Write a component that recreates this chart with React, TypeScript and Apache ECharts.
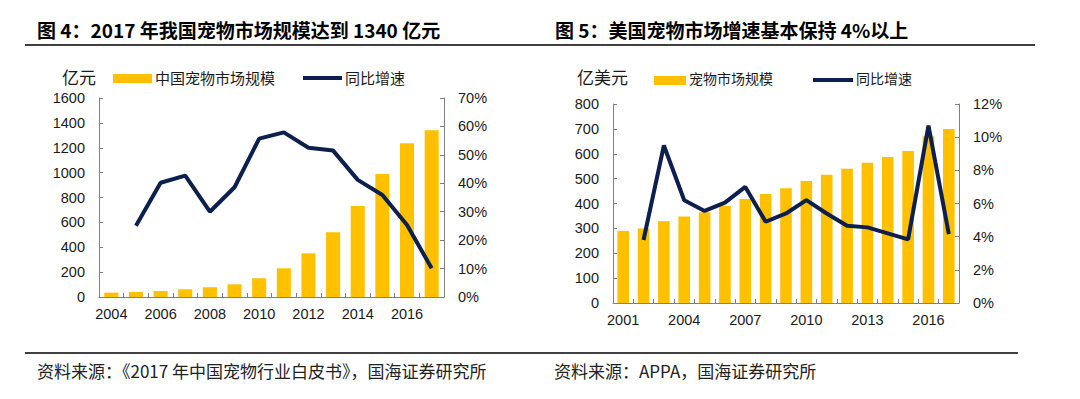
import React, { useEffect, useRef } from "react";
import * as echarts from "echarts";

const cnYears = ["2004","2005","2006","2007","2008","2009","2010","2011","2012","2013","2014","2015","2016","2017"];
const cnMarket = [35, 40, 48, 62, 78, 102, 150, 231, 351, 520, 732, 989, 1236, 1340];
const cnGrowth = [null, 25.1, 40.2, 42.7, 30.0, 38.6, 55.7, 57.9, 52.5, 51.5, 41.2, 35.9, 25.3, 10.1];

const usYears = ["2001","2002","2003","2004","2005","2006","2007","2008","2009","2010","2011","2012","2013","2014","2015","2016","2017"];
const usMarket = [290, 300, 329, 348, 365, 391, 418, 438, 461, 490, 516, 540, 564, 587, 611, 670, 700];
const usGrowth = [null, 3.8, 9.5, 6.2, 5.55, 6.05, 7.0, 4.9, 5.4, 6.2, 5.4, 4.66, 4.56, 4.2, 3.84, 10.7, 4.16];

const BAR = "#FFC000";
const NAVY = "#0D1F4F";
const AXIS = "#808080";
const TXT = "#1a1a1a";
const NUMFONT = "'Liberation Sans', Arial, sans-serif";
const CJK = "'Noto Sans CJK SC', 'Liberation Sans', sans-serif";

export default function App() {
  const ref = useRef<HTMLDivElement>(null);
  useEffect(() => {
    if (!ref.current) return;
    const chart = echarts.init(ref.current, null, { renderer: "svg" });
    const labelStyle = { color: TXT, fontSize: 14.5, fontFamily: NUMFONT, margin: 14 };
    const axisCommon = {
      axisLine: { show: true, lineStyle: { color: AXIS, width: 1 } },
      axisTick: { show: true, inside: true, length: 4, lineStyle: { color: AXIS } },
      splitLine: { show: false },
    };
    const xCommon = (data: string[], interval: number) => ({
      type: "category",
      data,
      boundaryGap: true,
      axisLine: { show: true, lineStyle: { color: AXIS, width: 1 } },
      axisTick: { show: true, inside: true, length: 4, interval: 0, alignWithLabel: false, lineStyle: { color: AXIS } },
      axisLabel: { color: TXT, fontSize: 14.5, fontFamily: NUMFONT, margin: 9, interval },
      splitLine: { show: false },
    });
    const plain = (v: number) => String(v);
    const pct = (v: number) => v + "%";
    const option: any = {
      animation: false,
      backgroundColor: "#ffffff",
      grid: [
        { left: 99, right: 1080 - 444, top: 98, bottom: 399 - 297, containLabel: false },
        { left: 613, right: 1080 - 959, top: 104, bottom: 399 - 303, containLabel: false },
      ],
      xAxis: [
        { ...xCommon(cnYears, 1), gridIndex: 0 },
        { ...xCommon(usYears, 2), gridIndex: 1 },
      ],
      yAxis: [
        { ...axisCommon, type: "value", gridIndex: 0, min: 0, max: 1600, interval: 200, position: "left",
          axisLabel: { ...labelStyle, formatter: plain } },
        { ...axisCommon, type: "value", gridIndex: 0, min: 0, max: 70, interval: 10, position: "right",
          axisLabel: { ...labelStyle, formatter: pct } },
        { ...axisCommon, type: "value", gridIndex: 1, min: 0, max: 800, interval: 100, position: "left",
          axisLabel: { ...labelStyle, formatter: plain } },
        { ...axisCommon, type: "value", gridIndex: 1, min: 0, max: 12, interval: 2, position: "right",
          axisLabel: { ...labelStyle, formatter: pct } },
      ],
      series: [
        { name: "中国宠物市场规模", type: "bar", xAxisIndex: 0, yAxisIndex: 0, data: cnMarket, barWidth: "57%", itemStyle: { color: BAR } },
        { name: "同比增速", type: "line", xAxisIndex: 0, yAxisIndex: 1, data: cnGrowth, symbol: "none", lineStyle: { color: NAVY, width: 4 }, itemStyle: { color: NAVY } },
        { name: "宠物市场规模", type: "bar", xAxisIndex: 1, yAxisIndex: 2, data: usMarket, barWidth: "57%", itemStyle: { color: BAR } },
        { name: "美国同比增速", type: "line", xAxisIndex: 1, yAxisIndex: 3, data: usGrowth, symbol: "none", lineStyle: { color: NAVY, width: 4 }, itemStyle: { color: NAVY } },
      ],
      graphic: [
        { type: "text", left: 37, top: 20, style: { text: "图 4：2017 年我国宠物市场规模达到 1340 亿元", font: `bold 19px ${CJK}`, fill: "#000" } },
        { type: "text", left: 555, top: 20, style: { text: "图 5：美国宠物市场增速基本保持 4%以上", font: `bold 19px ${CJK}`, fill: "#000" } },
        { type: "line", shape: { x1: 25, y1: 45, x2: 1035, y2: 45 }, style: { stroke: "#000", lineWidth: 1.5 } },
        { type: "line", shape: { x1: 25, y1: 353, x2: 1018, y2: 353 }, style: { stroke: "#000", lineWidth: 1.5 } },
        { type: "text", left: 37, top: 362, style: { text: "资料来源：《2017 年中国宠物行业白皮书》，国海证券研究所", font: `17px ${CJK}`, fill: "#222" } },
        { type: "text", left: 554, top: 362, style: { text: "资料来源：APPA，国海证券研究所", font: `17px ${CJK}`, fill: "#222" } },
        // left legend
        { type: "text", left: 62, top: 68, style: { text: "亿元", font: `17px ${CJK}`, fill: TXT } },
        { type: "rect", shape: { x: 113, y: 74, width: 39, height: 9 }, style: { fill: BAR } },
        { type: "text", left: 155, top: 70, style: { text: "中国宠物市场规模", font: `15px ${CJK}`, fill: TXT } },
        { type: "line", shape: { x1: 303, y1: 78, x2: 342, y2: 78 }, style: { stroke: NAVY, lineWidth: 4 } },
        { type: "text", left: 345, top: 70, style: { text: "同比增速", font: `15px ${CJK}`, fill: TXT } },
        // right legend
        { type: "text", left: 577, top: 68, style: { text: "亿美元", font: `17px ${CJK}`, fill: TXT } },
        { type: "rect", shape: { x: 654, y: 76, width: 32, height: 9 }, style: { fill: BAR } },
        { type: "text", left: 689, top: 71, style: { text: "宠物市场规模", font: `14px ${CJK}`, fill: TXT } },
        { type: "line", shape: { x1: 813, y1: 80, x2: 853, y2: 80 }, style: { stroke: NAVY, lineWidth: 4 } },
        { type: "text", left: 856, top: 71, style: { text: "同比增速", font: `14px ${CJK}`, fill: TXT } },
      ],
    };
    chart.setOption(option);
    return () => chart.dispose();
  }, []);
  return (
    <div
      ref={ref}
      style={{ position: "fixed", left: 0, top: 0, width: 1080, height: 399, background: "#fff" }}
    />
  );
}
